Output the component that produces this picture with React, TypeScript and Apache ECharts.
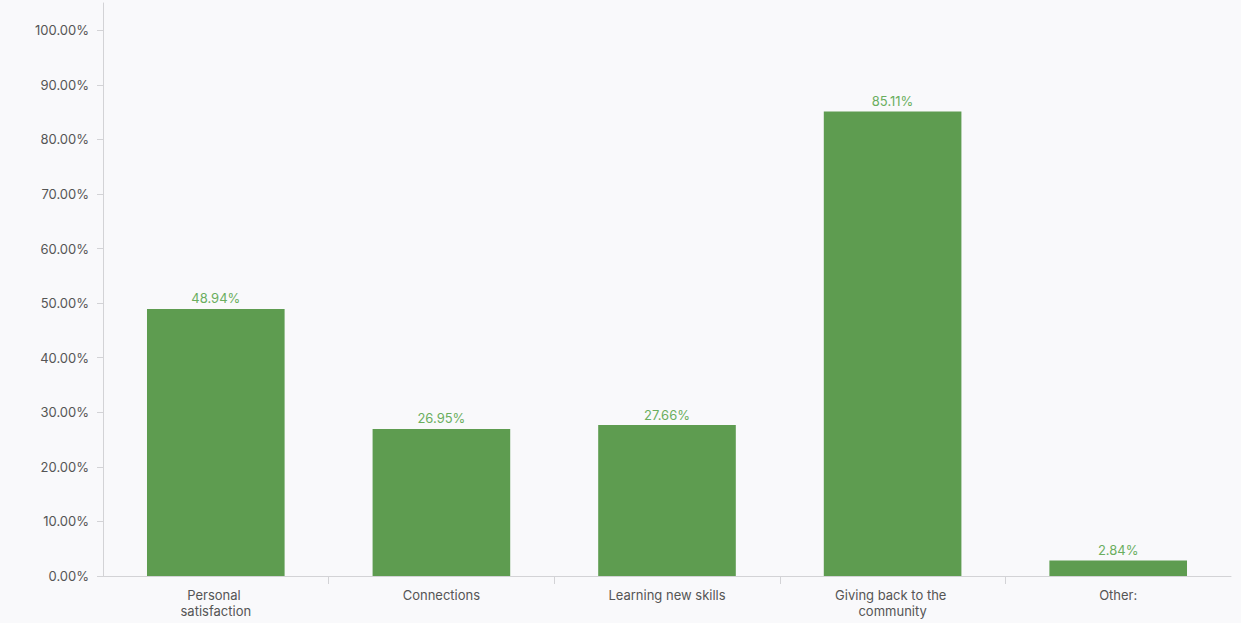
import React, { useEffect, useRef } from "react";
import * as echarts from "echarts";

const categories = [
  "Personal satisfaction",
  "Connections",
  "Learning new skills",
  "Giving back to the community",
  "Other:",
];
const values = [48.94, 26.95, 27.66, 85.11, 2.84];
const yTicks = [0, 10, 20, 30, 40, 50, 60, 70, 80, 90, 100];
const xDividers = [1, 2, 3, 4];

export default function App() {
  const ref = useRef<HTMLDivElement>(null);
  useEffect(() => {
    document.body.style.margin = "0";
    const chart = echarts.init(ref.current!, null, { renderer: "svg" });
    const font = "Inter, 'Noto Sans', sans-serif";
    chart.setOption({
      animation: false,
      backgroundColor: "#f9f9fb",
      textStyle: { fontFamily: font },
      grid: { left: 103, right: 10, top: 3, bottom: 47, containLabel: false },
      xAxis: [
        {
          type: "category",
          data: categories,
          axisLine: { lineStyle: { color: "#d3d3d6", width: 1 } },
          axisTick: { show: false },
          axisLabel: {
            color: "#555",
            fontSize: 13,
            fontFamily: font,
            margin: 11,
            width: 125,
            overflow: "break",
            lineHeight: 16,
            interval: 0,
          },
        },
        {
          type: "value",
          position: "bottom",
          min: 0,
          max: 5,
          interval: 1,
          axisLine: { show: false },
          splitLine: { show: false },
          axisLabel: { show: false },
          axisTick: {
            show: true,
            length: 8,
            lineStyle: { color: "#d3d3d6" },
            customValues: xDividers,
          },
        },
      ],
      yAxis: {
        type: "value",
        min: 0,
        max: 105,
        interval: 10,
        offset: 1,
        splitLine: { show: false },
        axisLine: { show: true, lineStyle: { color: "#d3d3d6", width: 1 } },
        axisTick: {
          show: true,
          length: 6,
          lineStyle: { color: "#d3d3d6" },
          customValues: yTicks,
        },
        axisLabel: {
          color: "#555",
          fontSize: 13,
          fontFamily: font,
          margin: 13,
          customValues: yTicks,
          formatter: (v: number) => v.toFixed(2) + "%",
        },
      },
      series: [
        {
          type: "bar",
          xAxisIndex: 0,
          data: values,
          barWidth: "61%",
          itemStyle: { color: "#5e9c50" },
          label: {
            show: true,
            position: "top",
            distance: 4,
            color: "#6aae5e",
            fontSize: 13,
            fontFamily: font,
            formatter: (p: any) => p.value.toFixed(2) + "%",
          },
        },
      ],
    });
    return () => chart.dispose();
  }, []);
  return <div ref={ref} style={{ width: 1241, height: 623 }} />;
}
